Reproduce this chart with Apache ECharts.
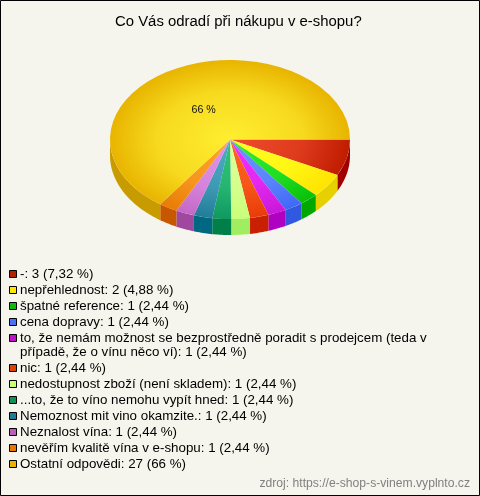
<!DOCTYPE html>
<html><head><meta charset="utf-8">
<style>html,body{margin:0;padding:0;background:#f5f5ed}#c{width:480px;height:496px}</style>
<script src="https://cdn.jsdelivr.net/npm/echarts@6/dist/echarts.min.js"></script>
</head><body><div id="c"></div>
<script>
const titleText = 'Co Vás odradí při nákupu v e-shopu?';
const sourceText = 'zdroj: https://e-shop-s-vinem.vyplnto.cz';
const categories = ['-','nepřehlednost','špatné reference','cena dopravy',
 'to, že nemám možnost se bezprostředně poradit s prodejcem (teda v\npřípadě, že o vínu něco ví)',
 'nic','nedostupnost zboží (není skladem)','...to, že to víno nemohu vypít hned','Nemoznost mit vino okamzite.','Neznalost vína','nevěřím kvalitě vína v e-shopu','Ostatní odpovědi'];
const values = [3,2,1,1,1,1,1,1,1,1,1,27];
const percents = ['7,32','4,88','2,44','2,44','2,44','2,44','2,44','2,44','2,44','2,44','2,44','66'];
const topInner = ['#ee4c2c','#ffff20','#30ee30','#6a94ff','#f030ff','#ff6420','#dcff98','#30c478','#50acc4','#e094e8','#ffa428','#ffee30'];
const topOuter = ['#c01c00','#ffe400','#08c008','#4068f8','#c818d8','#e83c08','#c8ff78','#109860','#207c98','#c468c8','#e87c08','#e8b400'];
const wallColors = ['#a00000','#e6d000','#00a800','#3058e0','#b000c0','#c82000','#a0ee60','#008048','#006880','#a048a0','#c85800','#c89c00'];
const legendColors = ['#b42000','#ffe800','#10b810','#4870f8','#c010c8','#e04000','#c8ff70','#109058','#207c98','#b860b8','#e87800','#e8b000'];

const CX = 230, CY = 139.5, RX = 120, RY = 79.5, DEPTH = 16;
const total = values.reduce((a, b) => a + b, 0);
let acc = 0;
const starts = values.map(v => { const s = acc; acc += v; return s; });
// slight foreshortening of the tilted disc: front slices look a little wider
const project = t => t + 0.059 * Math.pow(Math.sin(t / 2), 2);

function slice(i) {
  return function (params, api) {
    const r0 = api.value(1) / total * Math.PI * 2;
    const r1 = (api.value(1) + api.value(0)) / total * Math.PI * 2;
    const a0 = project(r0), a1 = project(r1);
    const children = [];
    const w0 = Math.min(a0, Math.PI), w1 = Math.min(a1, Math.PI);
    if (w1 > w0) {
      const upper = [], lower = [];
      const n = Math.max(4, Math.ceil((w1 - w0) * 60));
      for (let k = 0; k <= n; k++) {
        const t = w0 + (w1 - w0) * k / n;
        const x = CX + RX * Math.cos(t), y = CY + RY * Math.sin(t);
        upper.push([x, y]); lower.unshift([x, y + DEPTH]);
      }
      children.push({ type: 'polygon', z2: 1, shape: { points: upper.concat(lower) }, style: { fill: wallColors[i] } });
    }
    children.push({
      type: 'sector', z2: 2,
      scaleY: RY / RX, originX: CX, originY: CY,
      shape: { cx: CX, cy: CY, r: RX, r0: 0, startAngle: a0, endAngle: a1, clockwise: true },
      style: { fill: { type: 'radial', x: CX, y: CY, r: RX, global: true,
        colorStops: [{ offset: 0, color: topInner[i] },
                     { offset: 0.6, color: echarts.color.lerp(0.35, [topInner[i], topOuter[i]]) },
                     { offset: 1, color: topOuter[i] }] } }
    });
    if (i === values.length - 1) {
      const m = (r0 + r1) / 2;
      children.push({ type: 'text', z2: 3,
        x: CX + RX * 0.46 * Math.cos(m), y: CY + RY * 0.42 * Math.sin(m),
        style: { text: percents[i] + ' %', fill: '#111', font: '10.67px "Liberation Sans"', align: 'center', verticalAlign: 'middle' } });
    }
    return { type: 'group', children };
  };
}

const graphics = [{ type: 'rect', z: -1, silent: true, shape: { x: 0.5, y: 0.5, width: 479, height: 495 }, style: { fill: '#f5f5ed', stroke: '#000', lineWidth: 1 } }];
let rowY = 274;
categories.forEach((c, i) => {
  graphics.push({ type: 'rect', shape: { x: 9.5, y: rowY - 3.5, width: 7, height: 7 }, style: { fill: legendColors[i], stroke: '#000', lineWidth: 1 } });
  const label = c + ': ' + values[i] + ' (' + percents[i] + ' %)';
  graphics.push({ type: 'text', x: 20, y: rowY - 7, style: { text: label, fill: '#000', font: '13.33px "Liberation Sans"', lineHeight: 14, verticalAlign: 'top' } });
  rowY += 16 + (c.indexOf('\n') >= 0 ? 14 : 0);
});
graphics.push({ type: 'text', x: 470, y: 483.5, style: { text: sourceText, fill: '#808080', font: '12.15px "Liberation Sans"', align: 'right', verticalAlign: 'middle' } });

const chart = echarts.init(document.getElementById('c'), null, { renderer: 'canvas' });
chart.setOption({
  animation: false,
  backgroundColor: '#f5f5ed',
  title: { text: titleText, left: 110, top: 9, textStyle: { fontFamily: 'Liberation Sans', fontSize: 14.9, fontWeight: 'normal', color: '#000' } },
  graphic: graphics,
  series: categories.map((c, i) => ({
    type: 'custom', coordinateSystem: 'none', name: c, silent: true,
    renderItem: slice(i),
    data: [[values[i], starts[i]]]
  }))
});
</script></body></html>
